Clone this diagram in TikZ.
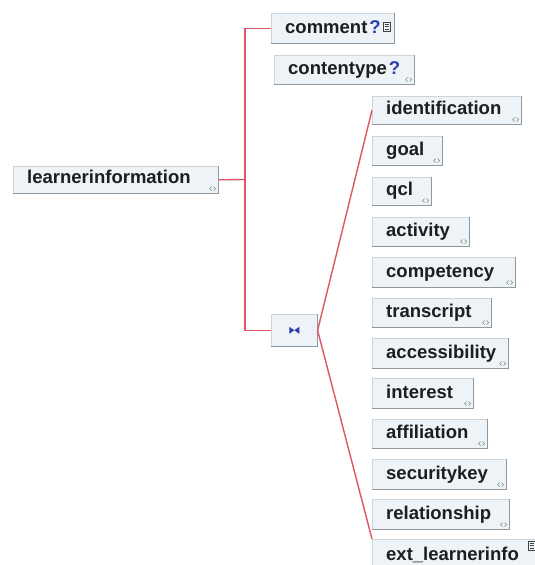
\documentclass[tikz,border=0pt]{standalone}
\usepackage{fontspec}
\setmainfont{Liberation Sans}
\usetikzlibrary{calc}
\definecolor{boxfill}{HTML}{EDF3F6}
\definecolor{boxline}{HTML}{CDD5DA}
\definecolor{boxedge}{HTML}{8E989E}
\definecolor{connred}{HTML}{DE5566}
\definecolor{qblue}{HTML}{2A3FB0}
\definecolor{txtcol}{HTML}{1E1E1E}
\definecolor{iconcol}{HTML}{7F8C86}
\tikzset{
  xbox/.style={rectangle, fill=boxfill, draw=boxline, line width=0.6pt, inner sep=0pt, anchor=north west},
  xedge/.style={draw=boxedge, line width=1pt},
  lbl/.style={font=\bfseries\fontsize{18.5}{20}\selectfont, text=txtcol, inner sep=0pt, anchor=base west},
  conn/.style={draw=connred, line width=1.4pt},
  chev/.style={draw=iconcol, line width=0.6pt},
}
\newcommand\xbx[6]{% name, left, top, right, bottom, text
  \node[xbox, minimum width={#4-#2}, minimum height={#5-#3}] (#1) at (#2,#3) {};
  \draw[xedge] (#1.north east) -- (#1.south east) -- (#1.south west);
  \node[lbl] (#1t) at ({#2+14},{#5-10}) {#6};
}
\newcommand\chevicon[1]{% box name
  \draw[chev] ($(#1.south east)+(-7,-3)$) -- ($(#1.south east)+(-9,-5)$) -- ($(#1.south east)+(-7,-7)$);
  \draw[chev] ($(#1.south east)+(-5,-3)$) -- ($(#1.south east)+(-3,-5)$) -- ($(#1.south east)+(-5,-7)$);
}
\newcommand\gridicon[2]{% x, y (top left)
  \draw[iconcol!50!black, line width=0.5pt] (#1,#2) rectangle ({#1+7},{#2+9});
  \foreach \k in {2,4.5,7} {\draw[iconcol!50!black, line width=0.8pt] ({#1+1.5},{#2+\k}) -- ({#1+5.5},{#2+\k});}
}
\begin{document}
\begin{tikzpicture}[x=1pt,y=-1pt]
\useasboundingbox (0,0) rectangle (535,565);
\fill[white] (0,0) rectangle (535,565);

% root
\xbx{learner}{13}{166}{218}{193}{learnerinformation}
\chevicon{learner}

% first level
\xbx{comment}{271}{13}{394}{43}{comment\kern2pt\textcolor{qblue}{?}}
\gridicon{383}{22}
\xbx{contentype}{274}{55}{414}{84}{contentype\kern2pt\textcolor{qblue}{?}}
\chevicon{contentype}

% compositor
\node[xbox, minimum width=46, minimum height=32] (star) at (271,314) {};
\draw[xedge] (star.north east) -- (star.south east) -- (star.south west);
\fill[qblue] ($(star.center)+(-5,-3.5)$) -- (star.center) -- ($(star.center)+(-5,3.5)$) -- cycle;
\fill[qblue] ($(star.center)+(5,-3.5)$) -- (star.center) -- ($(star.center)+(5,3.5)$) -- cycle;

% children
\xbx{ident}{372}{96}{521}{124}{identification}
\xbx{goal}{372}{136}{442}{165}{goal}
\xbx{qcl}{372}{177}{431}{205}{qcl}
\xbx{activity}{372}{217}{469}{246}{activity}
\xbx{competency}{372}{257}{515}{287}{competency}
\xbx{transcript}{372}{298}{491}{327}{transcript}
\xbx{accessibility}{372}{338}{508}{368}{accessibility}
\xbx{interest}{372}{378}{473}{408}{interest}
\xbx{affiliation}{372}{419}{487}{448}{affiliation}
\xbx{securitykey}{372}{459}{506}{489}{securitykey}
\xbx{relationship}{372}{499}{509}{529}{relationship}
\xbx{ext}{372}{539}{540}{570}{ext\_learnerinfo}
\foreach \n in {ident,goal,qcl,activity,competency,transcript,accessibility,interest,affiliation,securitykey,relationship} {\chevicon{\n}}
\gridicon{528}{541}

% connectors
\coordinate (j1) at (245,179.5);
\draw[conn] (learner.east) -- (j1);
\draw[conn] (comment.west) -| (j1) |- (star.west);
\draw[conn] (star.east) -- (ident.west);
\draw[conn] (star.east) -- (ext.north west);
\end{tikzpicture}
\end{document}
